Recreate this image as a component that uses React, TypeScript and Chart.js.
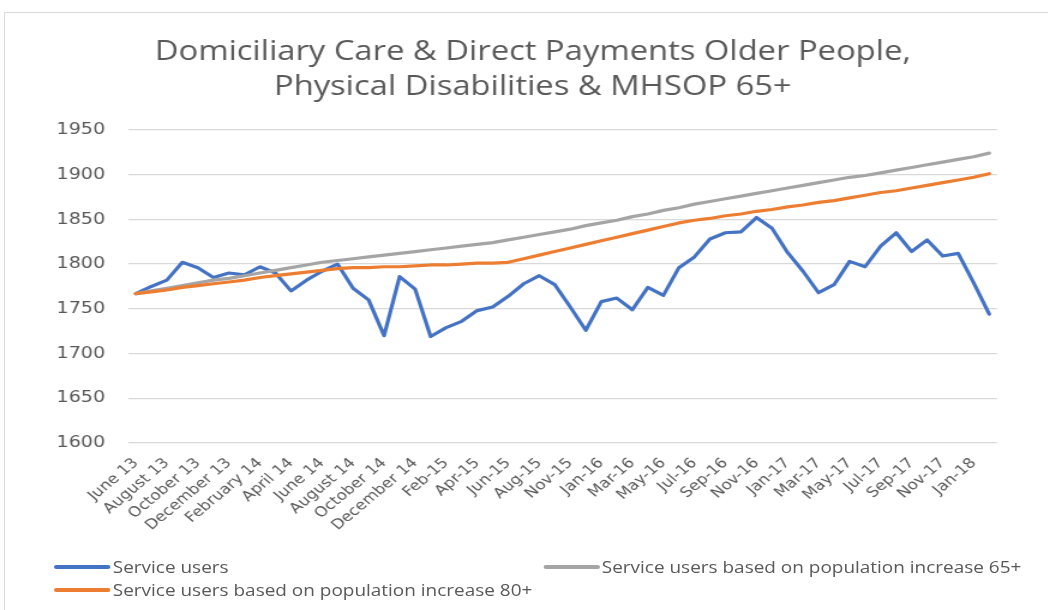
import React, { useEffect, useRef } from 'react';
import { Chart, registerables } from 'chart.js';

Chart.register(...registerables);

const titleLines = [
  'Domiciliary Care & Direct Payments Older People,',
  'Physical Disabilities & MHSOP 65+',
];

const months = [
  'June 13', 'July 13', 'August 13', 'September 13', 'October 13', 'November 13', 'December 13',
  'January 14', 'February 14', 'March 14', 'April 14', 'May 14', 'June 14', 'July 14',
  'August 14', 'September 14', 'October 14', 'November 14', 'December 14',
  'Jan-15', 'Feb-15', 'Mar-15', 'Apr-15', 'May-15', 'Jun-15', 'Jul-15', 'Aug-15', 'Oct-15',
  'Nov-15', 'Dec-15', 'Jan-16', 'Feb-16', 'Mar-16', 'Apr-16', 'May-16', 'Jun-16', 'Jul-16',
  'Aug-16', 'Sep-16', 'Oct-16', 'Nov-16', 'Dec-16', 'Jan-17', 'Feb-17', 'Mar-17', 'Apr-17',
  'May-17', 'Jun-17', 'Jul-17', 'Aug-17', 'Sep-17', 'Oct-17', 'Nov-17', 'Dec-17', 'Jan-18', 'Feb-18',
];

const serviceUsers = [
  1767, 1775, 1782, 1802, 1796, 1785, 1790, 1788, 1797, 1790,
  1770, 1782, 1792, 1800, 1773, 1760, 1720, 1786, 1772, 1719,
  1729, 1736, 1748, 1752, 1764, 1778, 1787, 1777, 1752, 1726,
  1758, 1762, 1749, 1774, 1765, 1796, 1808, 1828, 1835, 1836,
  1852, 1840, 1813, 1792, 1768, 1777, 1803, 1797, 1820, 1835,
  1814, 1827, 1809, 1812, 1779, 1744,
];

const basedOn65 = [
  1767, 1770, 1773, 1776, 1779, 1782, 1784, 1787, 1790, 1793,
  1796, 1799, 1802, 1804, 1806, 1808, 1810, 1812, 1814, 1816,
  1818, 1820, 1822, 1824, 1827, 1830, 1833, 1836, 1839, 1843,
  1846, 1849, 1853, 1856, 1860, 1863, 1867, 1870, 1873, 1876,
  1879, 1882, 1885, 1888, 1891, 1894, 1897, 1899, 1902, 1905,
  1908, 1911, 1914, 1917, 1920, 1924,
];

const basedOn80 = [
  1767, 1769, 1771, 1774, 1776, 1778, 1780, 1782, 1785, 1787,
  1789, 1791, 1793, 1795, 1796, 1796, 1797, 1797, 1798, 1799,
  1799, 1800, 1801, 1801, 1802, 1806, 1810, 1814, 1818, 1822,
  1826, 1830, 1834, 1838, 1842, 1846, 1849, 1851, 1854, 1856,
  1859, 1861, 1864, 1866, 1869, 1871, 1874, 1877, 1880, 1882,
  1885, 1888, 1891, 1894, 1897, 1901,
];

const seriesNames = [
  'Service users',
  'Service users based on population increase 65+',
  'Service users based on population increase 80+',
];
const seriesColors = ['#4472C4', '#A5A5A5', '#ED7D31'];

const yMin = 1600;
const yMax = 1950;
const yStep = 50;

const textColor = '#595959';

// the reference picture is stretched horizontally; draw at a narrower width and stretch
const STRETCH = 1.2;
const W = 874;
const H = 610;

export default function App() {
  const ref = useRef<HTMLCanvasElement>(null);

  useEffect(() => {
    if (!ref.current) return;
    const chart = new Chart(ref.current, {
      type: 'line',
      data: {
        labels: months,
        datasets: [
          { label: seriesNames[0], data: serviceUsers, borderColor: seriesColors[0], backgroundColor: seriesColors[0], borderWidth: 3.2, pointRadius: 0, tension: 0, order: 2, borderJoinStyle: 'round', borderCapStyle: 'round' },
          { label: seriesNames[1], data: basedOn65, borderColor: seriesColors[1], backgroundColor: seriesColors[1], borderWidth: 3.2, pointRadius: 0, tension: 0, order: 1, borderJoinStyle: 'round', borderCapStyle: 'round' },
          { label: seriesNames[2], data: basedOn80, borderColor: seriesColors[2], backgroundColor: seriesColors[2], borderWidth: 3.2, pointRadius: 0, tension: 0, order: 0, borderJoinStyle: 'round', borderCapStyle: 'round' },
        ],
      },
      options: {
        animation: false,
        responsive: false,
        devicePixelRatio: 1,
        layout: { padding: { top: 0, left: 14, right: 0, bottom: 67 } },
        plugins: {
          legend: { display: false },
          tooltip: { enabled: false },
          title: {
            display: true,
            text: titleLines,
            color: textColor,
            font: { family: 'Open Sans', size: 27.3, weight: 'normal', lineHeight: 1.28 },
            padding: { top: 35, bottom: 25 },
          },
        },
        scales: {
          x: {
            type: 'category',
            offset: true,
            grid: { display: false },
            border: { display: false },
            ticks: {
              autoSkip: false,
              minRotation: 45,
              maxRotation: 45,
              color: textColor,
              font: { family: 'DejaVu Sans', size: 14 },
              padding: 4,
              callback: (_v: any, i: number) => (i % 2 === 0 ? months[i] : ''),
            },
            afterFit: (s: any) => { s.height = 100; },
          },
          y: {
            min: yMin,
            max: yMax,
            ticks: {
              stepSize: yStep,
              color: textColor,
              font: { family: 'DejaVu Sans', size: 16 },
              padding: 19,
              callback: (v: any) => String(v),
            },
            grid: { color: '#d9d9d9', lineWidth: 1.2, drawTicks: false },
            border: { display: false },
            afterFit: (s: any) => { s.width = 92.7; },
          },
          y2: {
            position: 'right',
            display: true,
            grid: { display: false },
            border: { display: false },
            ticks: { display: false },
            afterFit: (s: any) => { s.width = 43.2; },
          },
        },
      },
    });
    return () => chart.destroy();
  }, []);

  const legendFont: React.CSSProperties = {
    fontFamily: 'Open Sans',
    fontSize: 15.8,
    color: textColor,
    whiteSpace: 'nowrap',
    lineHeight: '20px',
  };

  const item = (i: number, left: number, top: number) => (
    <div style={{ position: 'absolute', left, top, display: 'flex', alignItems: 'center' }}>
      <div style={{ width: 47, height: 4, background: seriesColors[i], borderRadius: 2 }} />
      <span style={{ ...legendFont, marginLeft: 2 }}>{seriesNames[i]}</span>
    </div>
  );

  return (
    <div style={{ position: 'fixed', left: 0, top: 0, width: 1048, height: 610, background: '#fff', overflow: 'hidden' }}>
      <div style={{ position: 'absolute', left: 4, top: 12, width: 1100, height: 700, borderTop: '1px solid #d9d9d9', borderLeft: '1px solid #d9d9d9' }} />
      <div style={{ position: 'absolute', left: 0, top: 0, width: W, height: H, transform: `scaleX(${STRETCH})`, transformOrigin: '0 0' }}>
        <canvas ref={ref} width={W} height={H} style={{ position: 'absolute', left: 0, top: 0, width: W, height: H }} />
        {item(0, 45, 557)}
        {item(1, 452.5, 557)}
        {item(2, 45, 580)}
      </div>
    </div>
  );
}
